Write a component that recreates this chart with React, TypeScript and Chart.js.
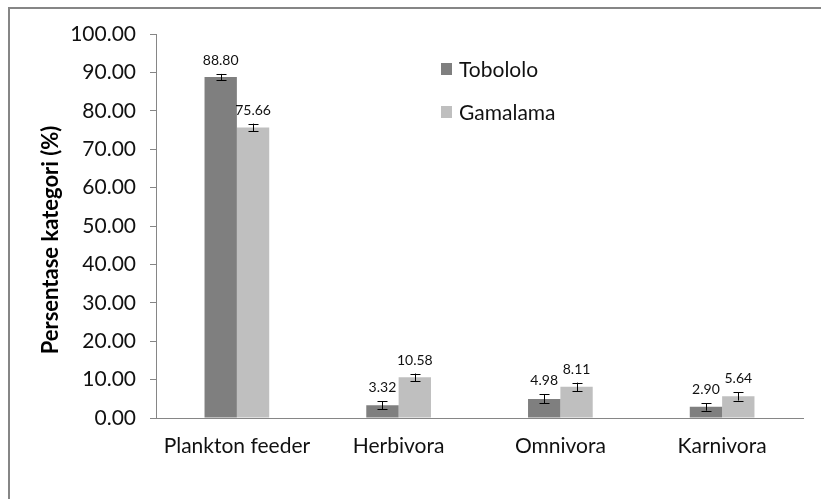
import React, { useEffect, useRef } from "react";
import { Chart, registerables } from "chart.js";

Chart.register(...registerables);

const categories = ["Plankton feeder", "Herbivora", "Omnivora", "Karnivora"];
const seriesNames = ["Tobololo", "Gamalama"];
const tobololo = [88.8, 3.32, 4.98, 2.9];
const gamalama = [75.66, 10.58, 8.11, 5.64];
const tobololoErr = [0.8, 1.0, 1.2, 1.0];
const gamalamaErr = [1.0, 1.0, 1.1, 1.1];
const yTitle = "Persentase kategori (%)";

const FONT = "Lato, 'Open Sans', sans-serif";
const COLORS = ["#7f7f7f", "#bfbfbf"];

const overlayPlugin = {
  id: "overlay",
  afterDatasetsDraw(chart: any) {
    const ctx = chart.ctx;
    const errs = [tobololoErr, gamalamaErr];
    const y = chart.scales.y;
    ctx.save();
    chart.data.datasets.forEach((ds: any, di: number) => {
      const meta = chart.getDatasetMeta(di);
      meta.data.forEach((bar: any, i: number) => {
        const v = ds.data[i];
        const e = errs[di][i];
        const x = Math.round(bar.x) + 0.5;
        const yTop = y.getPixelForValue(v + e);
        const yBot = y.getPixelForValue(v - e);
        ctx.strokeStyle = "#000";
        ctx.lineWidth = 1;
        ctx.beginPath();
        ctx.moveTo(x, yTop);
        ctx.lineTo(x, yBot);
        ctx.moveTo(x - 5, Math.round(yTop) + 0.5);
        ctx.lineTo(x + 5, Math.round(yTop) + 0.5);
        ctx.moveTo(x - 5, Math.round(yBot) + 0.5);
        ctx.lineTo(x + 5, Math.round(yBot) + 0.5);
        ctx.stroke();
        ctx.fillStyle = "#111";
        ctx.font = `14px ${FONT}`;
        ctx.textAlign = "center";
        ctx.textBaseline = "alphabetic";
        ctx.fillText(v.toFixed(2), bar.x, yTop - 9);
      });
    });
    // legend
    const legendY = [69, 112];
    seriesNames.forEach((name, i) => {
      ctx.fillStyle = COLORS[i];
      ctx.fillRect(441, legendY[i] - 6, 11, 12);
      ctx.fillStyle = "#111";
      ctx.font = `21px ${FONT}`;
      ctx.textAlign = "left";
      ctx.textBaseline = "middle";
      ctx.fillText(name, 459, legendY[i] + 1);
    });
    // y title
    ctx.translate(51, 240);
    ctx.rotate(-Math.PI / 2);
    ctx.fillStyle = "#000";
    ctx.font = `bold 22px ${FONT}`;
    ctx.textAlign = "center";
    ctx.textBaseline = "middle";
    ctx.fillText(yTitle, 0, 0);
    ctx.restore();
    // frame
    ctx.save();
    ctx.strokeStyle = "#868686";
    ctx.lineWidth = 2;
    ctx.beginPath();
    ctx.moveTo(9, chart.height);
    ctx.lineTo(9, 8);
    ctx.lineTo(chart.width, 8);
    ctx.stroke();
    ctx.restore();
  },
};

export default function App() {
  const ref = useRef<HTMLCanvasElement>(null);
  useEffect(() => {
    if (!ref.current) return;
    const chart = new Chart(ref.current, {
      type: "bar",
      data: {
        labels: categories,
        datasets: [
          { label: seriesNames[0], data: tobololo, backgroundColor: COLORS[0], categoryPercentage: 0.4, barPercentage: 1 },
          { label: seriesNames[1], data: gamalama, backgroundColor: COLORS[1], categoryPercentage: 0.4, barPercentage: 1 },
        ],
      },
      options: {
        animation: false,
        responsive: false,
        maintainAspectRatio: false,
        layout: { padding: { top: 34, right: 18, bottom: 0, left: 0 } },
        plugins: { legend: { display: false }, tooltip: { enabled: false } },
        scales: {
          x: {
            grid: { display: false, drawTicks: false },
            border: { color: "#868686", width: 1 },
            ticks: { padding: 16, color: "#111", font: { size: 21, family: FONT } },
            afterFit: (s: any) => { s.height = 81; },
          },
          y: {
            min: 0,
            max: 100,
            grid: { drawOnChartArea: false, drawTicks: true, tickLength: 6, color: "#868686" },
            border: { color: "#868686", width: 1 },
            ticks: {
              stepSize: 10,
              padding: 14,
              color: "#111",
              font: { size: 21, family: FONT },
              callback: (v: any) => Number(v).toFixed(2),
            },
            afterFit: (s: any) => { s.width = 156; },
          },
        },
      },
      plugins: [overlayPlugin],
    });
    return () => chart.destroy();
  }, []);
  return (
    <div style={{ position: "absolute", left: 0, top: 0, width: 821, height: 499, background: "#fff" }}>
      <canvas ref={ref} width={821} height={499} style={{ display: "block" }} />
    </div>
  );
}
